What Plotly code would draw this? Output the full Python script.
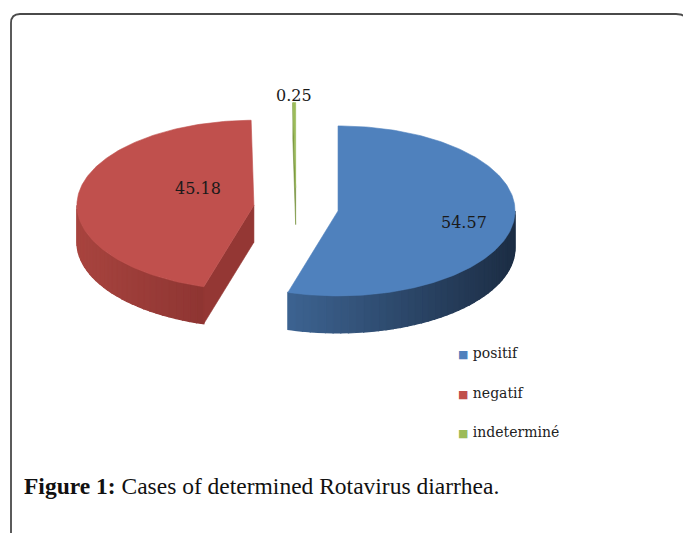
import numpy as np
import plotly.graph_objects as go

# ---------------- data ----------------
CATEGORIES = ["positif", "negatif", "indeterminé"]
VALUES = [54.57, 45.18, 0.25]
VALUE_LABELS = ["54.57", "45.18", "0.25"]
CAPTION_BOLD = "Figure 1:"
CAPTION_TEXT = "Cases of determined Rotavirus diarrhea."

# ---------------- style ----------------
COLORS_TOP = ["#4F81BD", "#C0504D", "#9BBB59"]
WALL_LIGHT = ["#3D6391", "#A8443F", "#8AAA4C"]
WALL_DARK = ["#1C2D44", "#8E3532", "#76923C"]
RADIAL_FACE = ["#2A4466", "#943734", "#76923C"]
LABEL_R = [0.72, 0.32, 1.08]
LABEL_DY = [3, -13, 0]

W, H = 683, 533
CX, CY, RX, RY, DEPTH, EXPLODE = 296, 208, 177, 85, 37, 0.24
SERIF = "DejaVu Serif"

total = float(sum(VALUES))
fracs = np.array(VALUES) / total
ends = np.cumsum(fracs) * 360.0
starts = ends - fracs * 360.0


def rim(theta, ox, oy, r=1.0, dz=0.0):
    t = np.radians(theta)
    return ox + r * RX * np.sin(t), oy - r * RY * np.cos(t) + dz


def mix(c1, c2, t):
    a = [int(c1[i:i + 2], 16) for i in (1, 3, 5)]
    b = [int(c2[i:i + 2], 16) for i in (1, 3, 5)]
    return "rgb(%d,%d,%d)" % tuple(round(a[k] + (b[k] - a[k]) * t) for k in range(3))


fig = go.Figure()


def poly(xs, ys, color, lw=0.0):
    xs = list(xs) + [xs[0]]
    ys = list(ys) + [ys[0]]
    fig.add_trace(go.Scatter(x=xs, y=ys, mode="lines", fill="toself",
                             fillcolor=color, line=dict(color=color, width=lw),
                             hoverinfo="skip", showlegend=False))


# draw back (green) first, then red, then blue
order = [2, 1, 0]
for i in order:
    s, e = starts[i], ends[i]
    mid = (s + e) / 2
    ox = CX + EXPLODE * RX * np.sin(np.radians(mid))
    oy = CY - EXPLODE * RY * np.cos(np.radians(mid))

    # outer wall (front half of the ellipse: 90..270 deg)
    ws, we = max(s, 90.0), min(e, 270.0)
    if we > ws:
        n = max(2, int(np.ceil((we - ws) / 2.5)))
        th = np.linspace(ws, we, n + 1)
        top = [rim(t, ox, oy) for t in th]
        xs_all = [p[0] for p in top]
        xmin, xmax = min(xs_all), max(xs_all)
        poly([p[0] for p in top] + [p[0] for p in top[::-1]],
             [p[1] for p in top] + [p[1] + DEPTH for p in top[::-1]],
             mix(WALL_DARK[i], WALL_LIGHT[i], 0.5))
        for k in range(n):
            (xa, ya), (xb, yb) = top[k], top[k + 1]
            xm = (xa + xb) / 2
            tcol = 1 - (xm - xmin) / (xmax - xmin)
            col = mix(WALL_DARK[i], WALL_LIGHT[i], tcol)
            poly([xa, xb, xb, xa], [ya, yb, yb + DEPTH, ya + DEPTH], col, lw=1.2)

    # radial faces facing the viewer
    for ang, visible in ((s, np.sin(np.radians(s)) < -1e-6),
                         (e, np.sin(np.radians(e)) > 1e-6)):
        if visible:
            xr, yr = rim(ang, ox, oy)
            poly([ox, xr, xr, ox], [oy, yr, yr + DEPTH, oy + DEPTH], RADIAL_FACE[i], lw=0.6)

    # top face
    th = np.linspace(s, e, max(3, int(np.ceil((e - s) / 1.0)) + 1))
    px = [ox] + [rim(t, ox, oy)[0] for t in th]
    py = [oy] + [rim(t, ox, oy)[1] for t in th]
    poly(px, py, COLORS_TOP[i], lw=0.6)

# value labels
for i in range(len(VALUES)):
    mid = (starts[i] + ends[i]) / 2
    ox = CX + EXPLODE * RX * np.sin(np.radians(mid))
    oy = CY - EXPLODE * RY * np.cos(np.radians(mid))
    lx, ly = rim(mid, ox, oy, r=LABEL_R[i], dz=LABEL_DY[i])
    fig.add_annotation(x=lx, y=ly, text=VALUE_LABELS[i], showarrow=False,
                       font=dict(family=SERIF, size=16, color="#1a1a1a"),
                       xanchor="center", yanchor="middle")

# legend (built from categories)
LEG_X, LEG_Y0, LEG_DY = 456, 353, 39.5
for i, cat in enumerate(CATEGORIES):
    fig.add_annotation(
        x=LEG_X, y=LEG_Y0 + i * LEG_DY, xanchor="left", yanchor="middle",
        showarrow=False,
        text="<span style='color:%s;font-size:11px'>■</span> %s" % (COLORS_TOP[i], cat),
        font=dict(family=SERIF, size=14, color="#222222"))

# caption
fig.add_annotation(x=22, y=486, xanchor="left", yanchor="middle", showarrow=False,
                   text="<b>%s</b> %s" % (CAPTION_BOLD, CAPTION_TEXT),
                   font=dict(family="Liberation Serif", size=23.5, color="#111111"))

# frame
fig.add_shape(type="path", path="M 11,540 L 11,23 Q 11,14 20,14 L 676,14 Q 682,14 683,16",
              line=dict(color="#4a4a4a", width=1.8))

fig.update_layout(
    width=W, height=H, margin=dict(l=0, r=0, t=0, b=0),
    paper_bgcolor="white", plot_bgcolor="white", showlegend=False,
    xaxis=dict(range=[0, W], visible=False, fixedrange=True),
    yaxis=dict(range=[H, 0], visible=False, fixedrange=True),
)
fig.write_html("out.html", config={"displayModeBar": False},
               post_script="document.body.style.margin='0';document.body.style.overflow='hidden';")
